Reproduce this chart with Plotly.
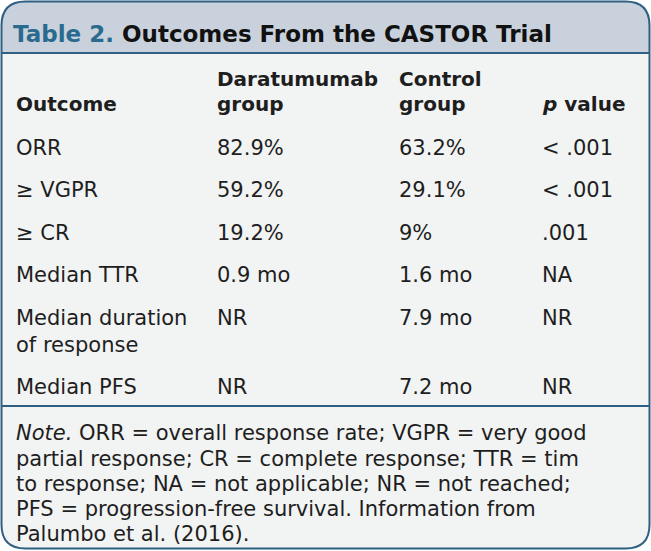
import plotly.graph_objects as go

W, H = 651, 551

title_num = "Table 2."
title_rest = " Outcomes From the CASTOR Trial"
headers_line1 = ["", "Daratumumab", "Control", ""]
headers_line2 = ["Outcome", "group", "group", "<i>p</i> value"]
outcomes = ["ORR", "≥ VGPR", "≥ CR", "Median TTR", "Median duration<br>of response", "Median PFS"]
daratumumab = ["82.9%", "59.2%", "19.2%", "0.9 mo", "NR", "NR"]
control = ["63.2%", "29.1%", "9%", "1.6 mo", "7.9 mo", "7.2 mo"]
p_values = ["< .001", "< .001", ".001", "NA", "NR", "NR"]
note_lines = [
    "<i>Note.</i> ORR = overall response rate; VGPR = very good",
    "partial response; CR = complete response; TTR = tim",
    "to response; NA = not applicable; NR = not reached;",
    "PFS = progression-free survival. Information from",
    "Palumbo et al. (2016).",
]

FONT = "DejaVu Sans"
BORDER = "#2f5f82"
BAND = "#c9d2dc"
BODY = "#f2f3f3"
TXT = "#1e1e1e"

col_x = [14, 215, 397, 540]
row_y = [148, 190, 233, 275, 318, 387]
note_y = [433, 459, 484, 509, 534]

fig = go.Figure()

def rounded_path(x0, y0, x1, y1, r, top=True, bottom=True):
    p = []
    if top:
        p.append(f"M{x0},{y0+r} Q{x0},{y0} {x0+r},{y0} L{x1-r},{y0} Q{x1},{y0} {x1},{y0+r}")
    else:
        p.append(f"M{x0},{y0} L{x1},{y0}")
    if bottom:
        p.append(f"L{x1},{y1-r} Q{x1},{y1} {x1-r},{y1} L{x0+r},{y1} Q{x0},{y1} {x0},{y1-r} Z")
    else:
        p.append(f"L{x1},{y1} L{x0},{y1} Z")
    return " ".join(p)

shapes = [
    dict(type="path", path=rounded_path(1.5, 1.5, 649.5, 548.5, 24), fillcolor=BODY,
         line=dict(width=0), xref="x", yref="y", layer="below"),
    dict(type="path", path=rounded_path(1.5, 1.5, 649.5, 53, 24, bottom=False), fillcolor=BAND,
         line=dict(width=0), xref="x", yref="y", layer="below"),
    dict(type="line", x0=1.5, x1=649.5, y0=53, y1=53, line=dict(color=BORDER, width=2), xref="x", yref="y"),
    dict(type="line", x0=1.5, x1=649.5, y0=406, y1=406, line=dict(color=BORDER, width=2), xref="x", yref="y"),
    dict(type="path", path=rounded_path(1.5, 1.5, 649.5, 548.5, 24), fillcolor="rgba(0,0,0,0)",
         line=dict(color=BORDER, width=2), xref="x", yref="y"),
]

ann = []
def add(x, y, text, size=21, bold=False, color=TXT):
    ann.append(dict(x=x, y=y, xref="x", yref="y", text=(f"<b>{text}</b>" if bold else text),
                    showarrow=False, xanchor="left", yanchor="middle", align="left",
                    font=dict(family=FONT, size=size, color=color)))

ann.append(dict(x=11, y=34, xref="x", yref="y", showarrow=False, xanchor="left", yanchor="middle",
                text=f"<b><span style='color:#2b6a8f'>{title_num}</span>{title_rest}</b>",
                font=dict(family=FONT, size=23, color="#111111")))

for i in range(4):
    if headers_line1[i]:
        add(col_x[i], 79, headers_line1[i], size=20, bold=True)
    add(col_x[i], 104, headers_line2[i], size=20, bold=True)

for i, y in enumerate(row_y):
    parts = outcomes[i].split("<br>")
    if len(parts) == 2:
        add(col_x[0], y, parts[0])
        add(col_x[0], y + 27, parts[1])
    else:
        add(col_x[0], y, outcomes[i])
    add(col_x[1], y, daratumumab[i])
    add(col_x[2], y, control[i])
    add(col_x[3], y, p_values[i])

for t, y in zip(note_lines, note_y):
    add(14, y, t, size=21)

fig.update_layout(
    width=W, height=H, margin=dict(l=0, r=0, t=0, b=0),
    paper_bgcolor="white", plot_bgcolor="white",
    xaxis=dict(range=[0, W], visible=False, fixedrange=True),
    yaxis=dict(range=[H, 0], visible=False, fixedrange=True),
    shapes=shapes, annotations=ann, showlegend=False,
)
fig.write_html("out.html", config=dict(displayModeBar=False),
               post_script="document.body.style.margin='0';document.body.style.overflow='hidden';")
